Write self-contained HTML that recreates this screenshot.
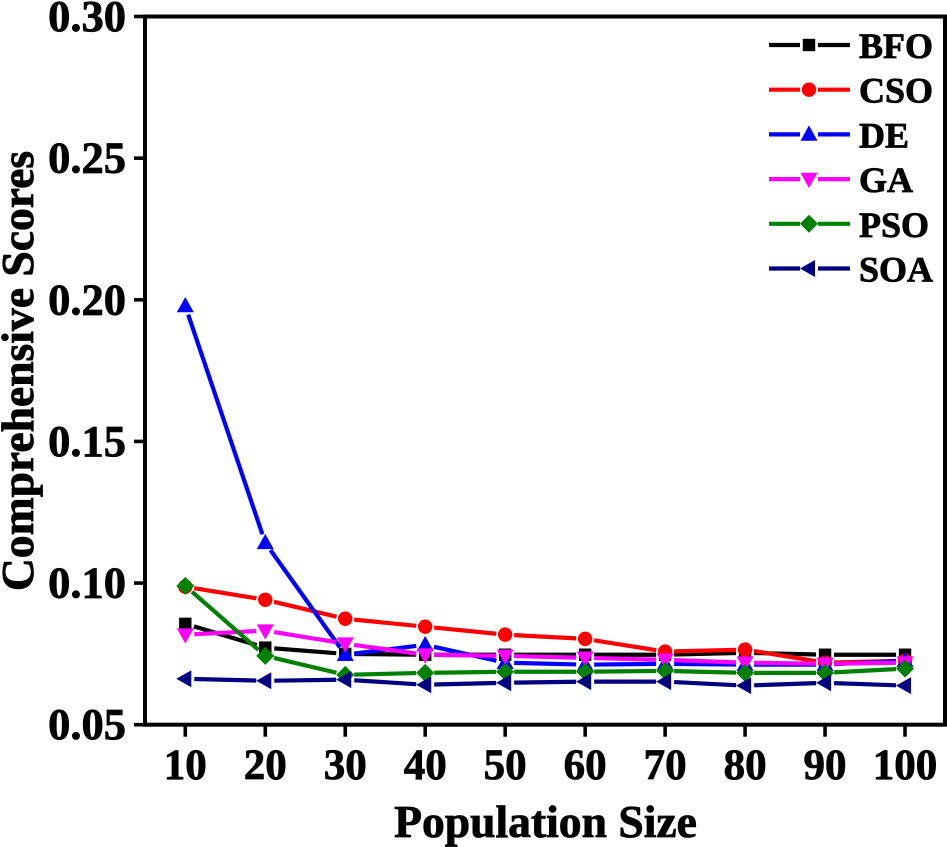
<!DOCTYPE html>
<html lang="en">
<head>
<meta charset="utf-8">
<title>Comprehensive Scores vs Population Size</title>
<style>
html,body{margin:0;padding:0;background:#fff;}
svg{display:block;}
text{font-family:"Liberation Serif",serif;font-weight:bold;fill:#000;stroke:#000;stroke-width:0.8px;}
</style>
</head>
<body>
<svg id="chart" xmlns="http://www.w3.org/2000/svg" width="947" height="847" viewBox="0 0 947 847"></svg>
<script>
const categories = [10, 20, 30, 40, 50, 60, 70, 80, 90, 100];
const yTickLabels = ["0.05", "0.10", "0.15", "0.20", "0.25", "0.30"];
const bfoValues = [0.0856, 0.0772, 0.0750, 0.0747, 0.0747, 0.0747, 0.0747, 0.0754, 0.0747, 0.0747];
const csoValues = [0.0987, 0.0941, 0.0874, 0.0846, 0.0818, 0.0803, 0.0758, 0.0765, 0.0719, 0.0726];
const deValues = [0.1978, 0.1142, 0.0747, 0.0782, 0.0719, 0.0712, 0.0715, 0.0712, 0.0712, 0.0726];
const gaValues = [0.0818, 0.0832, 0.0786, 0.0747, 0.0743, 0.0736, 0.0729, 0.0719, 0.0715, 0.0719];
const psoValues = [0.0990, 0.0743, 0.0676, 0.0683, 0.0687, 0.0687, 0.0690, 0.0683, 0.0683, 0.0698];
const soaValues = [0.0662, 0.0655, 0.0659, 0.0641, 0.0648, 0.0652, 0.0652, 0.0638, 0.0648, 0.0638];

const svg = document.getElementById('chart');
const NS = 'http://www.w3.org/2000/svg';
const plot = {left: 145, right: 945, top: 16.5, bottom: 724.7};
const xAt = function (v) { return 185.3 + (v - 10) * 7.997; };
const yAt = function (v) { return plot.bottom - (v - 0.05) * (plot.bottom - plot.top) / 0.25; };
const GAP = 9;

function make(tag, attrs, parent) {
  const el = document.createElementNS(NS, tag);
  for (const k in attrs) el.setAttribute(k, attrs[k]);
  (parent || svg).appendChild(el);
  return el;
}

function drawMarker(shape, cx, cy, color, parent) {
  if (shape === 'square') return make('rect', {x: cx - 6.2, y: cy - 6.2, width: 12.4, height: 12.4, fill: color}, parent);
  if (shape === 'circle') return make('circle', {cx: cx, cy: cy, r: 7.2, fill: color}, parent);
  let pts = [];
  if (shape === 'up') pts = [[cx, cy - 9], [cx + 8.5, cy + 6.3], [cx - 8.5, cy + 6.3]];
  if (shape === 'down') pts = [[cx, cy + 9], [cx + 8.5, cy - 6.3], [cx - 8.5, cy - 6.3]];
  if (shape === 'diamond') pts = [[cx, cy - 9], [cx + 9, cy], [cx, cy + 9], [cx - 9, cy]];
  if (shape === 'left') pts = [[cx - 9, cy], [cx + 6, cy - 8.5], [cx + 6, cy + 8.5]];
  return make('polygon', {points: pts.map(function (p) { return p.join(','); }).join(' '), fill: color}, parent);
}

const seriesList = [
  {name: 'BFO', values: bfoValues, color: '#000000', shape: 'square'},
  {name: 'CSO', values: csoValues, color: '#ff0000', shape: 'circle'},
  {name: 'DE', values: deValues, color: '#0000ff', shape: 'up'},
  {name: 'GA', values: gaValues, color: '#ff00ff', shape: 'down'},
  {name: 'PSO', values: psoValues, color: '#008000', shape: 'diamond'},
  {name: 'SOA', values: soaValues, color: '#000080', shape: 'left'}
];

/* series */
seriesList.forEach(function (s) {
  const g = make('g', {});
  
  
  for (let i = 0; i < categories.length - 1; i++) {
    const x1 = xAt(categories[i]), y1 = yAt(s.values[i]);
    const x2 = xAt(categories[i + 1]), y2 = yAt(s.values[i + 1]);
    const len = Math.hypot(x2 - x1, y2 - y1);
    if (len <= GAP * 2) continue;
    const ux = (x2 - x1) / len, uy = (y2 - y1) / len;
    const seg = make('line', {x1: x1 + ux * GAP, y1: y1 + uy * GAP, x2: x2 - ux * GAP, y2: y2 - uy * GAP, stroke: s.color, 'stroke-width': 4.2}, g);
    
    
  }
  categories.forEach(function (c, i) {
    const m = drawMarker(s.shape, xAt(c), yAt(s.values[i]), s.color, g);
    
    
  });
});

/* axes frame */
const frame = make('rect', {x: plot.left, y: plot.top, width: plot.right - plot.left, height: plot.bottom - plot.top, fill: 'none', stroke: '#000', 'stroke-width': 4});



/* x ticks */
categories.forEach(function (c) {
  const t = make('line', {x1: xAt(c), x2: xAt(c), y1: plot.bottom, y2: plot.bottom + 12, stroke: '#000', 'stroke-width': 3.6});
  
  
  const l = make('text', {x: xAt(c), y: 779, 'text-anchor': 'middle', 'font-size': 43});
  l.textContent = c;
  
  
});

/* y ticks */
yTickLabels.forEach(function (lab) {
  const y = yAt(parseFloat(lab));
  const t = make('line', {x1: plot.left - 11, x2: plot.left, y1: y, y2: y, stroke: '#000', 'stroke-width': 3.6});
  
  
  const l = make('text', {x: 126, y: y + 14.5, 'text-anchor': 'end', 'font-size': 44.5});
  l.textContent = lab;
  
  
});

/* axis titles */
const xTitle = make('text', {x: 545.5, y: 837, 'text-anchor': 'middle', 'font-size': 45.6});
xTitle.textContent = 'Population Size';



const yTitle = make('text', {x: 0, y: 0, 'text-anchor': 'middle', 'font-size': 45.6, transform: 'translate(33 371) rotate(-90)'});
yTitle.textContent = 'Comprehensive Scores';



/* legend */
const legend = make('g', {});


seriesList.forEach(function (s, i) {
  const y = 45 + i * 44.7;
  const g = make('g', {}, legend);
  
  
  make('line', {x1: 769, x2: 800, y1: y, y2: y, stroke: s.color, 'stroke-width': 4.2}, g);
  make('line', {x1: 818, x2: 850, y1: y, y2: y, stroke: s.color, 'stroke-width': 4.2}, g);
  drawMarker(s.shape, 809, y, s.color, g);
  const t = make('text', {x: 859, y: y + 13, 'font-size': 36}, g);
  t.textContent = s.name;
});
</script>
</body>
</html>
